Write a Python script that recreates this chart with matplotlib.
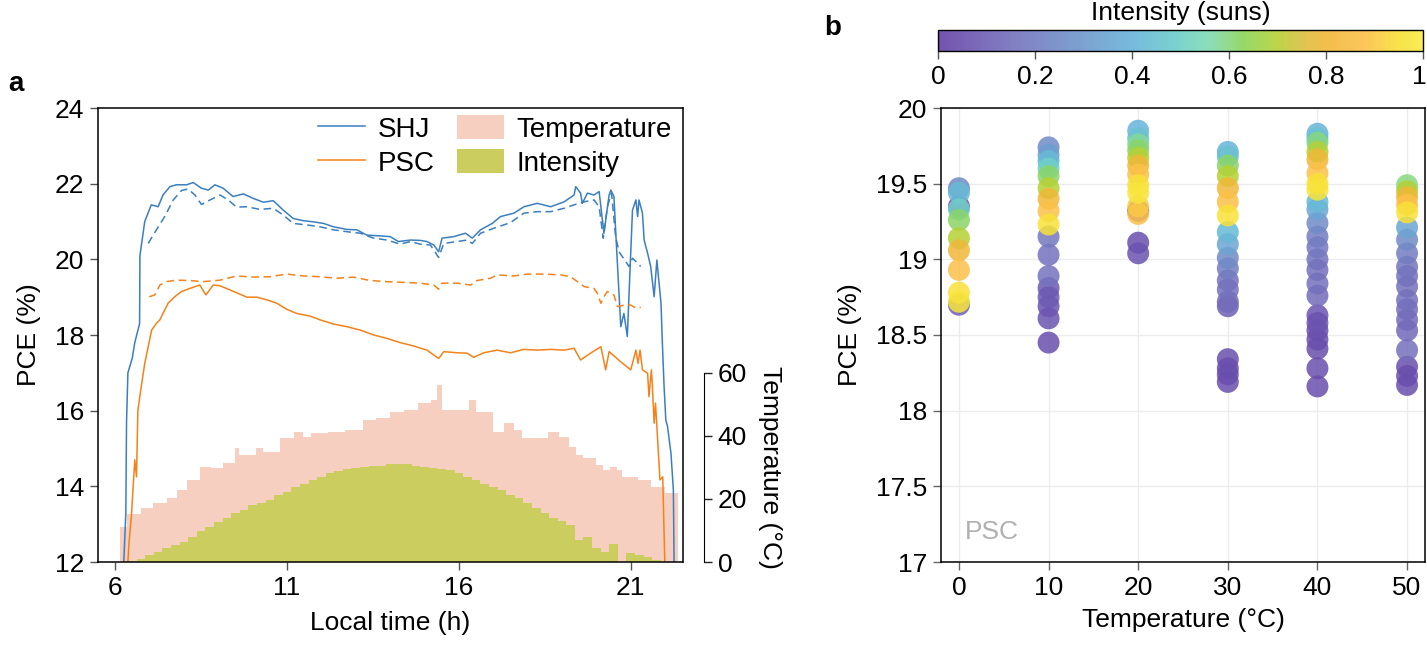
import numpy as np
import matplotlib
matplotlib.use("Agg")
import matplotlib.pyplot as plt
from matplotlib.colors import LinearSegmentedColormap, Normalize
from matplotlib.patches import Patch
from matplotlib.lines import Line2D
import matplotlib.ticker as mticker
import matplotlib.transforms as mtransforms

plt.rcParams['font.family'] = ['Liberation Sans', 'DejaVu Sans']
FS = 19

# ---------------- Panel a data ----------------
shj_t = [6.25, 6.31, 6.33, 6.37, 6.50, 6.57, 6.71, 6.72, 6.86, 7.05, 7.25, 7.39, 7.59, 7.78, 8.08, 8.27, 8.51,
         8.71, 8.90, 9.14, 9.43, 9.73, 10.02, 10.31, 10.60, 10.89, 11.18, 11.48, 11.77, 12.06, 12.35, 12.74,
         13.03, 13.32, 13.71, 14.00, 14.24, 14.59, 14.88, 15.07, 15.27, 15.41, 15.51, 15.85, 16.19, 16.39,
         16.63, 16.97, 17.21, 17.60, 17.89, 18.28, 18.67, 19.06, 19.35, 19.40, 19.54, 19.59, 19.74, 19.93,
         20.08, 20.22, 20.37, 20.42, 20.51, 20.59, 20.71, 20.80, 20.90, 21.05, 21.15, 21.20, 21.24, 21.34,
         21.39, 21.49, 21.58, 21.68, 21.76, 21.88, 21.92, 21.97, 22.02, 22.07, 22.17, 22.24, 22.26]
shj_pce = [12.0, 13.3, 15.7, 17.0, 17.4, 17.8, 18.3, 20.1, 21.0, 21.44, 21.39, 21.70, 21.92, 21.97, 21.97, 22.03,
           21.88, 21.83, 21.97, 21.88, 21.66, 21.73, 21.61, 21.51, 21.55, 21.30, 21.08, 21.02, 20.99, 20.95,
           20.86, 20.79, 20.78, 20.64, 20.62, 20.60, 20.47, 20.51, 20.50, 20.47, 20.38, 20.20, 20.56, 20.60,
           20.69, 20.56, 20.78, 20.95, 21.13, 21.22, 21.39, 21.48, 21.39, 21.52, 21.70, 21.92, 21.75, 21.48,
           21.75, 21.70, 21.79, 20.69, 21.70, 21.83, 21.66, 20.25, 18.22, 18.57, 17.96, 21.30, 21.57, 21.13,
           21.57, 21.22, 20.51, 20.16, 19.81, 19.01, 19.98, 18.84, 17.78, 16.63, 15.75, 15.58, 14.87, 13.90, 12.0]

shj_dash_t = [6.96, 7.20, 7.44, 7.69, 7.93, 8.12, 8.32, 8.51, 8.76, 9.05, 9.29, 9.53, 9.83, 10.21, 10.60, 10.89,
              11.18, 11.57, 11.96, 12.35, 12.74, 13.13, 13.52, 13.91, 14.29, 14.59, 14.88, 15.17, 15.41, 15.56,
              15.95, 16.24, 16.39, 16.63, 17.01, 17.50, 17.89, 18.28, 18.67, 19.06, 19.35, 19.64, 19.93, 20.08,
              20.20, 20.32, 20.44, 20.56, 20.66, 20.95, 21.05, 21.15, 21.29]
shj_dash_pce = [20.42, 20.78, 21.13, 21.57, 21.82, 21.86, 21.70, 21.45, 21.57, 21.70, 21.57, 21.38, 21.39, 21.32,
                21.35, 21.17, 20.95, 20.91, 20.86, 20.78, 20.73, 20.69, 20.56, 20.51, 20.40, 20.47, 20.40, 20.38,
                20.05, 20.42, 20.47, 20.51, 20.42, 20.69, 20.82, 20.97, 21.22, 21.26, 21.26, 21.35, 21.44, 21.52,
                21.57, 21.39, 20.56, 21.39, 21.75, 20.60, 20.20, 19.81, 20.03, 19.94, 19.81]

psc_t = [6.37, 6.40, 6.47, 6.57, 6.62, 6.66, 6.73, 6.86, 6.96, 7.06, 7.20, 7.30, 7.39, 7.54, 7.73, 7.93, 8.17,
         8.46, 8.64, 8.85, 9.05, 9.34, 9.63, 9.83, 10.12, 10.41, 10.70, 10.99, 11.28, 11.67, 11.96, 12.35, 12.74,
         13.13, 13.52, 13.91, 14.29, 14.68, 15.07, 15.41, 15.56, 15.95, 16.24, 16.43, 16.72, 17.11, 17.50, 17.89,
         18.28, 18.67, 19.06, 19.35, 19.54, 19.83, 20.13, 20.27, 20.37, 20.71, 21.00, 21.15, 21.21, 21.27, 21.34,
         21.49, 21.53, 21.60, 21.63, 21.68, 21.72, 21.85, 21.93, 21.99]
psc_pce = [12.0, 12.49, 13.2, 14.70, 14.25, 16.0, 16.46, 17.25, 17.69, 18.13, 18.31, 18.40, 18.57, 18.84, 19.01,
           19.15, 19.23, 19.32, 19.06, 19.32, 19.30, 19.19, 19.08, 19.00, 19.00, 18.93, 18.84, 18.68, 18.57, 18.50,
           18.40, 18.29, 18.22, 18.13, 18.00, 17.91, 17.80, 17.71, 17.60, 17.38, 17.56, 17.53, 17.52, 17.41, 17.53,
           17.60, 17.53, 17.62, 17.60, 17.62, 17.60, 17.65, 17.34, 17.52, 17.69, 17.08, 17.56, 17.29, 17.08, 17.60,
           17.25, 17.60, 17.08, 16.99, 16.37, 17.08, 16.63, 15.67, 16.2, 14.17, 14.25, 12.0]

psc_dash_t = [6.99, 7.15, 7.30, 7.49, 7.78, 8.17, 8.56, 9.05, 9.53, 10.02, 10.50, 10.99, 11.48, 11.96, 12.45,
              12.93, 13.42, 13.91, 14.39, 14.88, 15.27, 15.41, 15.51, 15.95, 16.34, 16.53, 16.92, 17.11, 17.60,
              17.99, 18.47, 18.96, 19.25, 19.45, 19.64, 19.93, 20.03, 20.13, 20.22, 20.32, 20.51, 20.61, 20.80,
              21.00, 21.15, 21.29]
psc_dash_pce = [19.01, 19.06, 19.32, 19.41, 19.45, 19.44, 19.41, 19.45, 19.56, 19.53, 19.54, 19.61, 19.56, 19.54,
                19.50, 19.53, 19.44, 19.41, 19.39, 19.37, 19.32, 19.21, 19.37, 19.37, 19.32, 19.44, 19.50, 19.59,
                19.56, 19.61, 19.61, 19.59, 19.54, 19.41, 19.28, 19.23, 19.10, 18.84, 19.01, 19.15, 19.06, 18.75,
                18.79, 18.79, 18.71, 18.73]

temp_edges = [6.13, 6.33, 6.76, 7.1, 7.5, 7.8, 8.1, 8.46, 8.8, 9.13, 9.48, 9.6, 10.1, 10.3, 10.8, 11.2, 11.45,
              11.7, 12.2, 12.7, 13.2, 13.6, 14.0, 14.4, 14.8, 15.2, 15.35, 15.5, 16.3, 16.5, 17.0, 17.3, 17.6,
              17.85, 18.2, 18.6, 18.9, 19.2, 19.4, 19.6, 20.0, 20.2, 20.4, 20.6, 20.75, 21.2, 21.6, 22.0, 22.37]
temp_vals = [11.2, 15.2, 17.0, 18.6, 20.2, 22.8, 26.0, 30.2, 29.7, 31.3, 36.1, 33.9, 36.1, 35.0, 39.2, 41.3, 39.7,
             40.8, 41.3, 41.9, 45.0, 45.6, 47.7, 48.2, 50.3, 51.4, 56.1, 48.2, 51.4, 47.7, 41.3, 44.0, 41.9, 39.2,
             39.2, 41.3, 39.7, 36.6, 33.9, 32.9, 30.8, 29.2, 30.2, 29.2, 27.1, 26.0, 23.9, 22.0]

int_centers = [6.5, 6.75, 7.0, 7.25, 7.5, 7.75, 8.0, 8.25, 8.5, 8.75, 9.0, 9.25, 9.5, 9.75, 10.0, 10.25, 10.5,
               10.75, 11.0, 11.25, 11.5, 11.75, 12.0, 12.25, 12.5, 12.75, 13.0, 13.25, 13.5, 13.75, 14.0, 14.25,
               14.5, 14.75, 15.0, 15.25, 15.5, 15.75, 16.0, 16.25, 16.5, 16.75, 17.0, 17.25, 17.5, 17.75, 18.0,
               18.25, 18.5, 18.75, 19.0, 19.25, 19.5, 19.75, 20.0, 20.25, 20.5, 20.75, 21.0, 21.25, 21.5, 21.75]
int_vals = [0.01, 0.03, 0.06, 0.09, 0.12, 0.15, 0.18, 0.22, 0.27, 0.31, 0.35, 0.39, 0.43, 0.46, 0.50, 0.52, 0.55,
            0.59, 0.62, 0.66, 0.69, 0.72, 0.75, 0.78, 0.80, 0.82, 0.83, 0.84, 0.85, 0.85, 0.86, 0.86, 0.86, 0.85,
            0.84, 0.83, 0.82, 0.81, 0.78, 0.75, 0.72, 0.69, 0.66, 0.63, 0.59, 0.56, 0.52, 0.48, 0.43, 0.39, 0.36,
            0.33, 0.19, 0.22, 0.12, 0.09, 0.16, 0.0, 0.08, 0.06, 0.04, 0.02]

# ---------------- Panel b data ----------------
temps_b = [0, 10, 20, 30, 40, 50]
pce_0C = [19.47, 19.35, 19.44, 19.33, 19.26, 19.14, 19.06, 18.93, 18.78, 18.72, 18.70]
int_0C = [0.25, 0.08, 0.42, 0.50, 0.62, 0.70, 0.80, 0.88, 0.95, 0.97, 0.10]
pce_10C = [19.74, 19.69, 19.65, 19.60, 19.55, 19.47, 19.40, 19.32, 19.23, 19.15, 19.03, 18.89, 18.81, 18.75,
           18.69, 18.61, 18.45]
int_10C = [0.25, 0.33, 0.42, 0.50, 0.62, 0.70, 0.80, 0.88, 0.95, 0.18, 0.16, 0.16, 0.08, 0.08, 0.07, 0.06, 0.05]
pce_20C = [19.85, 19.80, 19.76, 19.72, 19.67, 19.62, 19.56, 19.49, 19.44, 19.35, 19.30, 19.32, 19.11, 19.04]
int_20C = [0.40, 0.45, 0.58, 0.62, 0.70, 0.80, 0.88, 0.95, 0.97, 0.90, 0.88, 0.05, 0.05, 0.06]
pce_30C = [19.71, 19.68, 19.62, 19.55, 19.47, 19.38, 19.29, 19.18, 19.10, 19.01, 18.94, 18.86, 18.80, 18.72,
           18.69, 18.34, 18.28, 18.24, 18.19]
int_30C = [0.40, 0.45, 0.62, 0.70, 0.80, 0.88, 0.95, 0.42, 0.35, 0.25, 0.20, 0.16, 0.15, 0.14, 0.10, 0.05, 0.05,
           0.05, 0.05]
pce_40C = [19.83, 19.80, 19.77, 19.71, 19.66, 19.57, 19.50, 19.46, 19.38, 19.33, 19.24, 19.15, 19.08, 19.00,
           18.93, 18.84, 18.76, 18.63, 18.58, 18.53, 18.47, 18.41, 18.28, 18.16]
int_40C = [0.40, 0.45, 0.60, 0.70, 0.80, 0.88, 0.95, 0.96, 0.42, 0.35, 0.25, 0.20, 0.18, 0.16, 0.15, 0.15, 0.14,
           0.06, 0.06, 0.05, 0.05, 0.05, 0.05, 0.05]
pce_50C = [19.49, 19.45, 19.41, 19.36, 19.31, 19.21, 19.13, 19.04, 18.95, 18.89, 18.82, 18.73, 18.67, 18.60,
           18.53, 18.40, 18.29, 18.23, 18.17]
int_50C = [0.60, 0.70, 0.80, 0.88, 0.95, 0.35, 0.25, 0.20, 0.17, 0.16, 0.15, 0.15, 0.14, 0.14, 0.13, 0.15, 0.05,
           0.05, 0.05]
pce_b = [pce_0C, pce_10C, pce_20C, pce_30C, pce_40C, pce_50C]
int_b = [int_0C, int_10C, int_20C, int_30C, int_40C, int_50C]

cbar_ticks = [0, 0.2, 0.4, 0.6, 0.8, 1]

# ---------------- styling ----------------
C_SHJ = '#3b7fc0'
C_PSC = '#f3821a'
C_TEMP = '#f7cfc0'
C_INT = '#cbcd5e'
LW = 1.1
DASH = (0, (5, 3))
cmap = LinearSegmentedColormap.from_list('intens', [
    (0.00, '#6440a6'), (0.15, '#7470bc'), (0.30, '#6f98cc'), (0.40, '#67b3da'),
    (0.50, '#6dd0c8'), (0.56, '#80dab0'), (0.63, '#8cd45a'), (0.70, '#b4d234'),
    (0.75, '#d8c040'), (0.80, '#f0b838'), (0.88, '#fcc04a'), (0.95, '#f8e038'), (1.00, '#f8ec40')])

W, H = 1427, 651
fig = plt.figure(figsize=(W / 100, H / 100), dpi=100)

def px_rect(l, t, r, b):
    return [l / W, 1 - b / H, (r - l) / W, (b - t) / H]

# ---- panel a ----
ax = fig.add_axes(px_rect(98, 108, 683, 562))
ax_t = ax.twinx()
ax_i = ax.twinx()

ax_t.stairs(temp_vals, temp_edges, fill=True, color=C_TEMP, lw=0, label='Temperature')
int_edges = np.concatenate([[int_centers[0] - 0.125], np.asarray(int_centers) + 0.125])
ax_i.stairs(int_vals, int_edges, fill=True, color=C_INT, lw=0, label='Intensity')

ax.plot(shj_t, shj_pce, color=C_SHJ, lw=LW, label='SHJ')
ax.plot(shj_dash_t, shj_dash_pce, color=C_SHJ, lw=LW, ls=DASH)
ax.plot(psc_t, psc_pce, color=C_PSC, lw=LW, label='PSC')
ax.plot(psc_dash_t, psc_dash_pce, color=C_PSC, lw=LW, ls=DASH)

ax.set_zorder(ax_i.get_zorder() + 2)
ax.patch.set_visible(False)

ax.set_xlim(5.5, 22.52)
ax.set_ylim(12, 24)
ax.set_xticks([6, 11, 16, 21])
ax.set_yticks([12, 14, 16, 18, 20, 22, 24])
ax.tick_params(axis='both', direction='out', length=6, width=1, color='#555555', labelsize=FS, pad=4)
ax.tick_params(axis='y', right=False)
for s in ax.spines.values():
    s.set_linewidth(1.1)
ax.set_xlabel('Local time (h)', fontsize=FS, labelpad=8)
ax.set_ylabel('PCE (%)', fontsize=FS, labelpad=10)

ax_t.set_ylim(0, 144)
ax_t.set_yticks([0, 20, 40, 60])
ax_t.spines['right'].set_position(('outward', 15))
ax_t.spines['right'].set_bounds(0, 60)
for k in ['top', 'left', 'bottom']:
    ax_t.spines[k].set_visible(False)
ax_t.tick_params(axis='y', direction='out', length=6, width=1, color='#222222', labelsize=FS, pad=4)
fig.text(770 / W, 1 - 467 / H, 'Temperature (°C)', rotation=270, ha='center', va='center', fontsize=FS)

ax_i.set_ylim(0, 4)
ax_i.axis('off')

handles = [Line2D([], [], color=C_SHJ, lw=LW), Line2D([], [], color=C_PSC, lw=LW),
           Patch(color=C_TEMP, lw=0), Patch(color=C_INT, lw=0)]
leg = ax.legend(handles, ['SHJ', 'PSC', 'Temperature', 'Intensity'], ncol=2, frameon=False,
                loc='upper right', bbox_to_anchor=(1.0, 1.01), fontsize=20, handlelength=1.7,
                handleheight=1.0, handletextpad=0.45, columnspacing=0.8, labelspacing=0.22, borderaxespad=0)

fig.text(8 / W, 1 - 84 / H, 'a', fontsize=20, fontweight='bold', va='center')

# ---- panel b ----
bx = fig.add_axes(px_rect(941, 108, 1425, 562))
norm = Normalize(0, 1)
for T, p, it in zip(temps_b, pce_b, int_b):
    order = np.argsort(it, kind='stable')
    p_arr = np.asarray(p)[order]
    i_arr = np.asarray(it)[order]
    bx.scatter(np.full(len(p_arr), T), p_arr, c=i_arr, cmap=cmap, norm=norm, s=250, alpha=0.85,
               linewidths=0, zorder=3)
bx.set_xlim(-2, 52)
bx.set_ylim(17, 20)
bx.set_xticks(temps_b)
bx.set_yticks([17, 17.5, 18, 18.5, 19, 19.5, 20])
bx.yaxis.set_major_formatter(mticker.FormatStrFormatter('%g'))
bx.grid(True, color='#ececec', lw=1, zorder=0)
bx.set_axisbelow(True)
bx.tick_params(axis='both', direction='out', length=6, width=1, color='#666666', labelsize=FS, pad=4)
for s in bx.spines.values():
    s.set_linewidth(1.1)
bx.set_xlabel('Temperature (°C)', fontsize=FS, labelpad=6)
bx.set_ylabel('PCE (%)', fontsize=FS, labelpad=10)
bx.text(0.05, 0.065, 'PSC', transform=bx.transAxes, fontsize=FS, color='#b0b0b0', ha='left', va='center')

fig.text(824 / W, 1 - 28 / H, 'b', fontsize=20, fontweight='bold', va='center')

# ---- colorbar ----
cax = fig.add_axes(px_rect(938, 30, 1423, 51))
sm = matplotlib.cm.ScalarMappable(norm=norm, cmap=cmap)
cb = fig.colorbar(sm, cax=cax, orientation='horizontal', ticks=cbar_ticks)
cb.ax.xaxis.set_major_formatter(mticker.FormatStrFormatter('%g'))
cb.ax.tick_params(direction='out', length=6, width=1, color='#555555', labelsize=FS, pad=4)
cb.outline.set_linewidth(1.0)
cb.solids.set_alpha(0.9)
fig.canvas.draw()
last = cb.ax.get_xticklabels()[-1]
last.set_transform(last.get_transform() + mtransforms.ScaledTranslation(-4 / 100, 0, fig.dpi_scale_trans))
fig.text((938 + 1423) / 2 / W, 1 - 13 / H, 'Intensity (suns)', ha='center', va='center', fontsize=FS)

fig.savefig('out.png', dpi=100)
